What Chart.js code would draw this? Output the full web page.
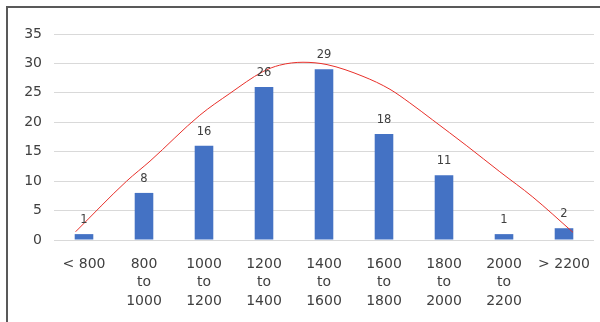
<!DOCTYPE html>
<html>
<head>
<meta charset="utf-8">
<script src="https://cdn.jsdelivr.net/npm/chart.js@4/dist/chart.umd.min.js"></script>
<style>
    html, body { margin: 0; padding: 0; background: #ffffff; }
    #wrap { position: relative; width: 600px; height: 322px; }
    #frame { position: absolute; left: 6px; top: 6px; right: 0; bottom: 0;
             border-left: 2px solid #595959; border-top: 2px solid #595959; pointer-events: none; }
</style>
</head>
<body>
<div id="wrap">
    <canvas id="myChart" width="600" height="322"></canvas>
    <div id="frame"></div>
</div>
<script>
// 區間與次數
const categories = [['< 800'], ['800', 'to', '1000'], ['1000', 'to', '1200'], ['1200', 'to', '1400'],
    ['1400', 'to', '1600'], ['1600', 'to', '1800'], ['1800', 'to', '2000'], ['2000', 'to', '2200'], ['> 2200']];
const counts = [1, 8, 16, 26, 29, 18, 11, 1, 2];

// 紅色曲線 (x 以類別位置計)
const curveX = [-0.14, 0.71, 1.1, 1.93, 2.43, 2.98, 3.26, 3.65, 4.05, 4.65, 5.1, 5.43, 5.81, 6.38, 6.93, 7.48, 8.15];
const curveY = [1.4, 10, 13.4, 21.2, 24.9, 28.6, 29.7, 30.2, 29.8, 27.8, 25.6, 23.3, 20.4, 16.0, 11.6, 7.3, 1.3];

const yTicks = [0, 5, 10, 15, 20, 25, 30, 35];

const textColor = '#404040';
const fontFamily = "'DejaVu Sans', Verdana, sans-serif";

// 柱上數值
const barLabels = {
    id: 'barLabels',
    afterDatasetsDraw(chart) {
        const ctx = chart.ctx;
        const meta = chart.getDatasetMeta(0);
        ctx.save();
        ctx.fillStyle = textColor;
        ctx.font = '11.5px ' + fontFamily;
        ctx.textAlign = 'center';
        ctx.textBaseline = 'middle';
        meta.data.forEach((bar, i) => {
            ctx.fillText(String(counts[i]), bar.x, bar.y - 14);
        });
        ctx.restore();
    }
};

const ctx = document.getElementById('myChart').getContext('2d');
const myChart = new Chart(ctx, {
    type: 'bar',
    data: {
        labels: categories,
        datasets: [{
            data: counts,
            backgroundColor: '#4472C4',
            borderWidth: 0,
            barPercentage: 0.31,
            categoryPercentage: 1,
            grouped: false,
            order: 2
        }, {
            type: 'line',
            xAxisID: 'x2',
            data: curveX.map((x, i) => ({ x: x, y: curveY[i] })),
            borderColor: '#E8302A',
            borderWidth: 1,
            pointRadius: 0,
            cubicInterpolationMode: 'monotone',
            fill: false,
            order: 1
        }]
    },
    options: {
        responsive: false,
        animation: false,
        layout: { padding: { left: 0, right: 6, top: 34, bottom: 0 } },
        plugins: {
            legend: { display: false },
            tooltip: { enabled: false }
        },
        scales: {
            x: {
                grid: { display: false },
                border: { display: false },
                ticks: {
                    color: textColor,
                    font: { family: fontFamily, size: 14, lineHeight: 1.32 },
                    padding: 7,
                    maxRotation: 0,
                    autoSkip: false
                },
                afterFit(scale) { scale.height = 82; }
            },
            x2: {
                type: 'linear',
                display: false,
                offset: false,
                min: -0.5,
                max: 8.5
            },
            y: {
                min: 0,
                max: 35,
                afterBuildTicks(scale) { scale.ticks = yTicks.map(v => ({ value: v })); },
                grid: { color: '#D9D9D9', lineWidth: 1, drawTicks: false },
                border: { display: false },
                ticks: {
                    color: textColor,
                    font: { family: fontFamily, size: 14 },
                    padding: 12
                },
                afterFit(scale) { scale.width = 54; }
            }
        }
    },
    plugins: [barLabels]
});
</script>
</body>
</html>
